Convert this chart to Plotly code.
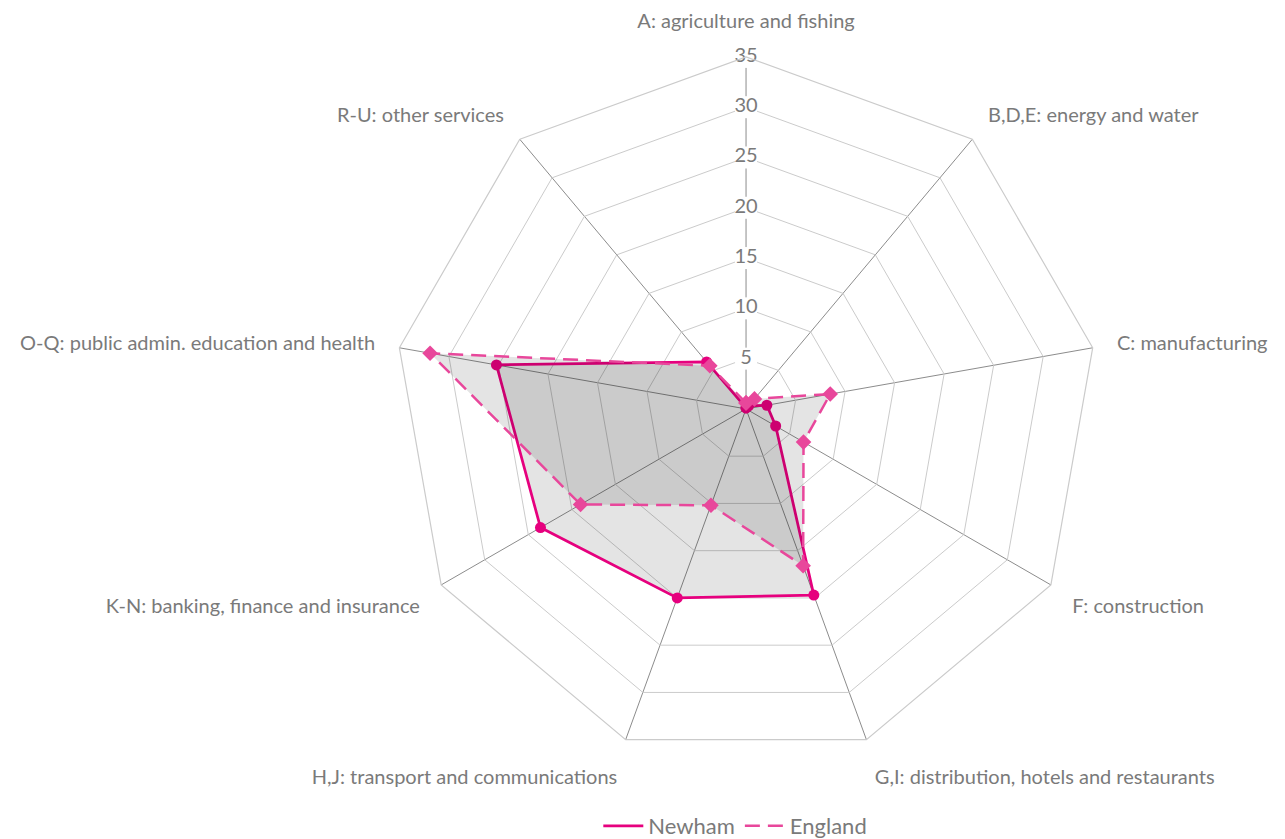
import plotly.graph_objects as go

categories = [
    "A: agriculture and fishing",
    "B,D,E: energy and water",
    "C: manufacturing",
    "F: construction",
    "G,I: distribution, hotels and restaurants",
    "H,J: transport and communications",
    "K-N: banking, finance and insurance",
    "O-Q: public admin. education and health",
    "R-U: other services",
]
newham = [0.1, 0.4, 2.1, 3.4, 19.7, 20.0, 23.6, 25.2, 6.1]
england = [0.6, 1.3, 8.5, 6.6, 16.6, 10.2, 19.0, 31.9, 5.6]
tick_values = [5, 10, 15, 20, 25, 30, 35]
tick_labels = [str(v) for v in tick_values]

FONT = "Lato"
TEXT = "#7a7a7a"
C_NEW = "#E6007E"
C_ENG = "#E8479B"
DASH = "15px,8px"

fig = go.Figure()

fig.add_trace(go.Scatterpolar(
    r=newham + newham[:1],
    theta=categories + categories[:1],
    name="Newham",
    mode="lines+markers",
    line=dict(color=C_NEW, width=2.75),
    marker=dict(symbol="circle", size=11, color=C_NEW),
    fill="toself",
    fillcolor="rgba(0,0,0,0.105)",
    showlegend=False,
))
fig.add_trace(go.Scatterpolar(
    r=england + england[:1],
    theta=categories + categories[:1],
    name="England",
    mode="lines+markers",
    line=dict(color=C_ENG, width=2.5, dash=DASH),
    marker=dict(symbol="diamond", size=12, color=C_ENG),
    fill="toself",
    fillcolor="rgba(0,0,0,0.105)",
    showlegend=False,
))
# radial tick labels sitting on the first spoke with a white backing
fig.add_trace(go.Scatterpolar(
    r=tick_values,
    theta=[categories[0]] * len(tick_values),
    mode="markers+text",
    text=tick_labels,
    textposition="middle center",
    textfont=dict(family=FONT, size=20, color=TEXT),
    marker=dict(symbol="square", size=22, color="white"),
    showlegend=False,
    hoverinfo="skip",
))
# legend entries (line samples only)
fig.add_trace(go.Scatterpolar(
    r=[None], theta=[categories[0]], name="Newham", mode="lines",
    line=dict(color=C_NEW, width=2.75),
))
fig.add_trace(go.Scatterpolar(
    r=[None], theta=[categories[0]], name="England", mode="lines",
    line=dict(color=C_ENG, width=2.5, dash=DASH),
))

fig.update_layout(
    width=1285,
    height=839,
    paper_bgcolor="white",
    plot_bgcolor="white",
    margin=dict(l=0, r=0, t=0, b=0),
    font=dict(family=FONT, color=TEXT, size=20),
    polar=dict(
        domain=dict(x=[0.3004, 0.8483], y=[0.1026, 0.9417]),
        bgcolor="white",
        gridshape="linear",
        radialaxis=dict(
            range=[0, 35],
            tickvals=tick_values,
            showticklabels=False,
            ticks="",
            showline=False,
            gridcolor="#cbcbcb",
            gridwidth=1.2,
            angle=90,
        ),
        angularaxis=dict(
            direction="clockwise",
            rotation=90,
            gridcolor="#8c8c8c",
            gridwidth=1.2,
            linecolor="#cbcbcb",
            linewidth=1.2,
            ticks="outside",
            ticklen=20,
            tickcolor="rgba(0,0,0,0)",
            tickfont=dict(family=FONT, size=20, color=TEXT),
        ),
    ),
    legend=dict(
        orientation="h",
        x=0.566,
        xanchor="center",
        y=0.0,
        yanchor="bottom",
        font=dict(family=FONT, size=22, color=TEXT),
        itemwidth=40,
        tracegroupgap=0,
    ),
)

fig.write_html("out.html")
